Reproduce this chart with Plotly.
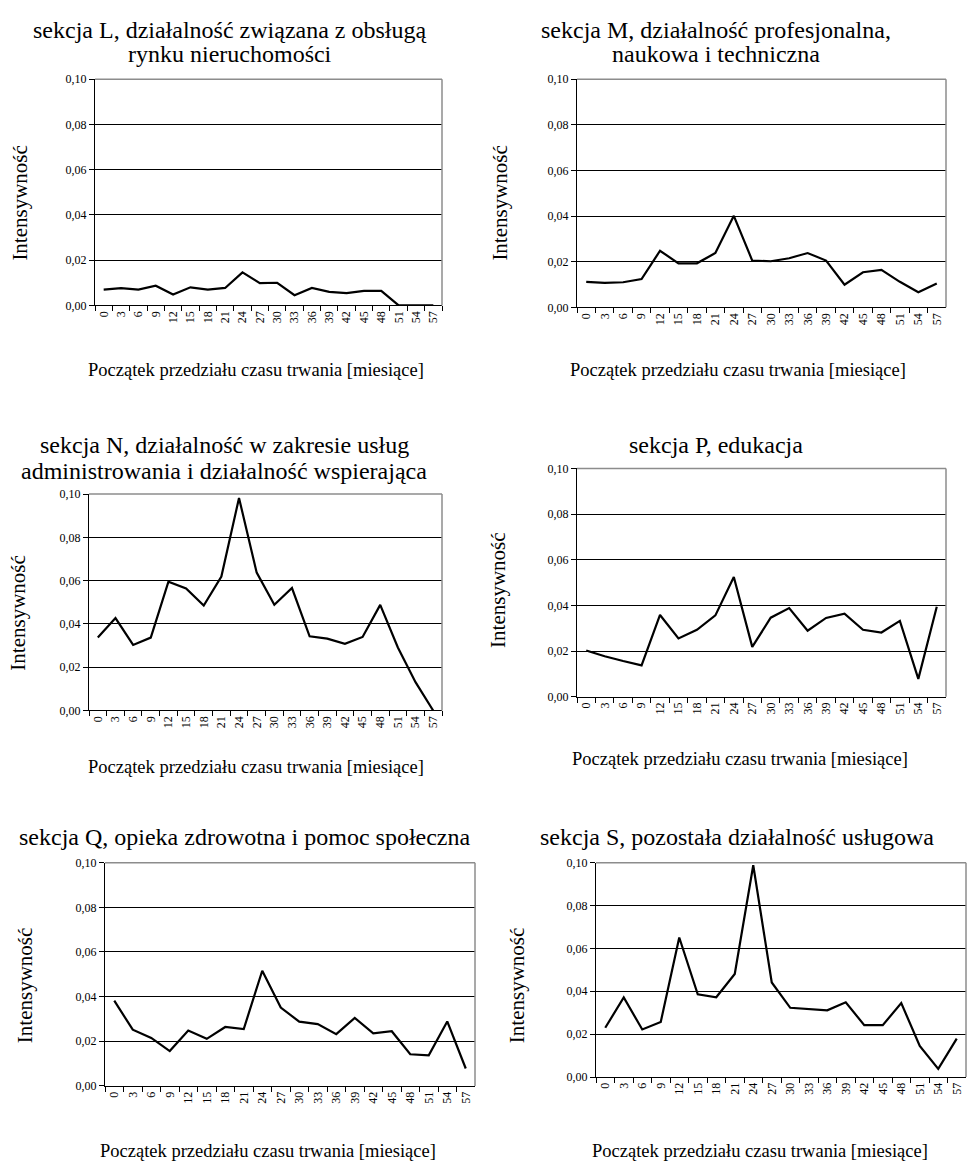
import plotly.graph_objects as go

months = ["0", "3", "6", "9", "12", "15", "18", "21", "24", "27",
          "30", "33", "36", "39", "42", "45", "48", "51", "54", "57"]

sekcja_L = [0.0070, 0.0076, 0.0070, 0.0087, 0.0048, 0.0080, 0.0070, 0.0077, 0.0146, 0.0098,
            0.0100, 0.0045, 0.0077, 0.0060, 0.0054, 0.0064, 0.0064, 0.0000, 0.0000, 0.0000]
sekcja_M = [0.0112, 0.0107, 0.0110, 0.0124, 0.0248, 0.0193, 0.0193, 0.0238, 0.0401, 0.0205,
            0.0202, 0.0215, 0.0238, 0.0205, 0.0099, 0.0154, 0.0164, 0.0112, 0.0066, 0.0105]
sekcja_N = [0.0337, 0.0427, 0.0303, 0.0337, 0.0595, 0.0564, 0.0485, 0.0619, 0.0982, 0.0637,
            0.0489, 0.0566, 0.0343, 0.0332, 0.0308, 0.0340, 0.0488, 0.0291, 0.0131, 0.0000]
sekcja_P = [0.0202, 0.0177, 0.0156, 0.0137, 0.0358, 0.0255, 0.0293, 0.0356, 0.0524, 0.0218,
            0.0346, 0.0388, 0.0289, 0.0345, 0.0364, 0.0293, 0.0281, 0.0332, 0.0078, 0.0394]
sekcja_Q = [0.0382, 0.0252, 0.0215, 0.0156, 0.0248, 0.0211, 0.0264, 0.0255, 0.0516, 0.0351,
            0.0288, 0.0277, 0.0232, 0.0305, 0.0236, 0.0245, 0.0142, 0.0137, 0.0289, 0.0078]
sekcja_S = [0.0230, 0.0371, 0.0222, 0.0257, 0.0651, 0.0386, 0.0372, 0.0481, 0.0988, 0.0441,
            0.0323, 0.0317, 0.0311, 0.0349, 0.0242, 0.0242, 0.0345, 0.0145, 0.0038, 0.0179]

titles = [
    ["sekcja L, działalność związana z obsługą", "rynku nieruchomości"],
    ["sekcja M, działalność profesjonalna,", "naukowa i techniczna"],
    ["sekcja N, działalność w zakresie usług", "administrowania i działalność wspierająca"],
    ["sekcja P, edukacja"],
    ["sekcja Q, opieka zdrowotna i pomoc społeczna"],
    ["sekcja S, pozostała działalność usługowa"],
]
series = [sekcja_L, sekcja_M, sekcja_N, sekcja_P, sekcja_Q, sekcja_S]
y_title = "Intensywność"
x_title = "Początek przedziału czasu trwania [miesiące]"

W, H = 967, 1171
FONT = "Liberation Serif, Times New Roman, DejaVu Serif, serif"

# plot areas in pixels: (left, right, top, bottom)
areas = [
    (95, 442, 73, 302),
    (577, 946, 73, 304),
    (89, 442, 493, 712),
    (577, 946, 467, 698),
    (105, 475, 866, 1092),
    (596, 966, 866, 1083),
]
# title: centre x and y of each line; y-title centre; x-title centre (pixels)
title_pos = [(230, [23, 48]), (716, [23, 48]), (224, [443, 470]),
             (716, [443]), (245, [840]), (737, [840])]
ytitle_pos = [(20, 199), (500, 199), (18, 614), (498, 591), (25, 991), (517, 991)]
xtitle_pos = [(256, 367), (738, 367), (256, 769), (740, 761), (268, 1158), (760, 1158)]

def px(x):
    return x / W

def py(y):
    return 1 - y / H

fig = go.Figure()
annotations = []
shapes = []
for i, (vals, title) in enumerate(zip(series, titles)):
    n = i + 1
    xa = "x" if n == 1 else f"x{n}"
    ya = "y" if n == 1 else f"y{n}"
    fig.add_trace(go.Scatter(x=months, y=vals, mode="lines",
                             line=dict(color="black", width=2.2),
                             xaxis=xa, yaxis=ya, hoverinfo="x+y"))
    l, r, t, b = areas[i]
    xkey = "xaxis" if n == 1 else f"xaxis{n}"
    ykey = "yaxis" if n == 1 else f"yaxis{n}"
    fig.update_layout({
        xkey: dict(domain=[px(l), px(r)], anchor=ya, type="category",
                   categoryorder="array", categoryarray=months,
                   range=[-0.5, len(months) - 0.5],
                   showline=True, linecolor="black", linewidth=1,
                   ticks="outside", tickson="boundaries", ticklen=5,
                   tickcolor="black", tickangle=-90, showgrid=False,
                   tickfont=dict(family=FONT, size=12, color="black")),
        ykey: dict(domain=[py(b), py(t)], anchor=xa, range=[0, 0.1],
                   dtick=0.02, tick0=0, tickformat=".2f",
                   showline=True, linecolor="black", linewidth=1,
                   ticks="outside", ticklen=5, tickcolor="black",
                   showgrid=True, gridcolor="black", gridwidth=1,
                   zeroline=False,
                   tickfont=dict(family=FONT, size=12, color="black")),
    })
    shapes.append(dict(type="line", xref=f"{xa} domain", yref=f"{ya} domain",
                       x0=0, x1=1, y0=1, y1=1, line=dict(color="#8c8c8c", width=1.5),
                       layer="above"))
    shapes.append(dict(type="line", xref=f"{xa} domain", yref=f"{ya} domain",
                       x0=1, x1=1, y0=0, y1=1, line=dict(color="#8c8c8c", width=1.5),
                       layer="above"))
    tx, tys = title_pos[i]
    for line_text, ty in zip(title, tys):
        annotations.append(dict(text=line_text, x=px(tx), y=py(ty), xref="paper", yref="paper",
                                xanchor="center", yanchor="middle", showarrow=False,
                                font=dict(family=FONT, size=24, color="black")))
    yx, yy = ytitle_pos[i]
    annotations.append(dict(text=y_title, x=px(yx), y=py(yy), xref="paper", yref="paper",
                            xanchor="center", yanchor="middle", showarrow=False,
                            textangle=-90,
                            font=dict(family=FONT, size=21, color="black")))
    xx, xy = xtitle_pos[i]
    annotations.append(dict(text=x_title, x=px(xx), y=py(xy), xref="paper", yref="paper",
                            xanchor="center", yanchor="middle", showarrow=False,
                            font=dict(family=FONT, size=18.5, color="black")))

fig.update_layout(width=W, height=H, margin=dict(l=0, r=0, t=0, b=0),
                  plot_bgcolor="white", paper_bgcolor="white",
                  showlegend=False, separators=", ",
                  annotations=annotations, shapes=shapes)

fig.write_html("out.html", config={"displayModeBar": False},
               post_script="document.body.style.margin='0';document.body.style.overflow='hidden';")
